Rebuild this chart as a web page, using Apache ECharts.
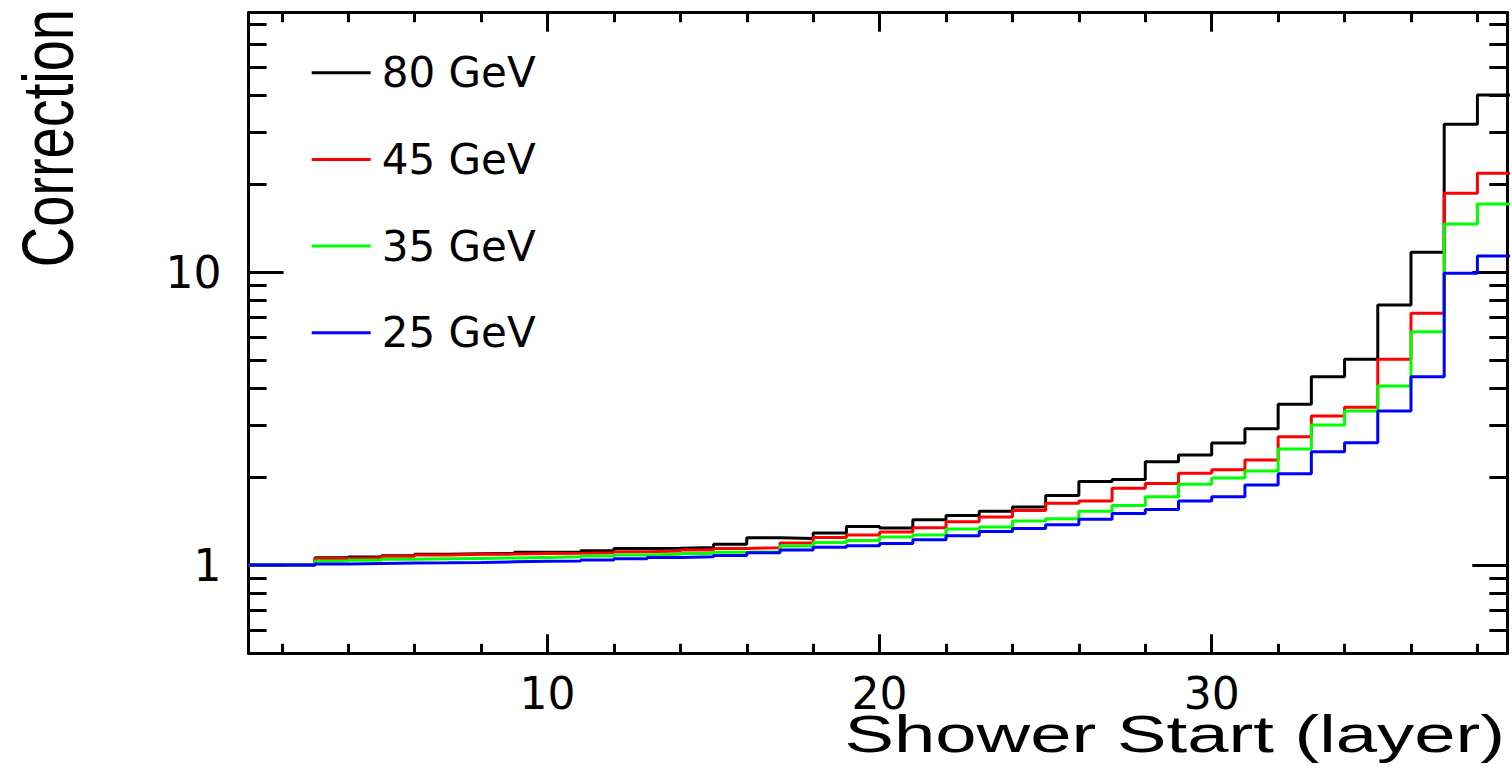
<!DOCTYPE html>
<html>
<head>
<meta charset="utf-8">
<title>Correction vs Shower Start</title>
<script src="https://cdn.jsdelivr.net/npm/echarts@6/dist/echarts.min.js"></script>
<style>
  html, body { margin: 0; padding: 0; background: #ffffff; }
  #chart { width: 1512px; height: 780px; }
</style>
</head>
<body>
<div id="chart"></div>
<script>
// Bin edges of the shower-start histogram (one bin per layer; 39 closes layer 38)
const layerEdges = [1, 2, 3, 4, 5, 6, 7, 8, 9, 10, 11, 12, 13, 14, 15, 16, 17, 18, 19, 20,
                    21, 22, 23, 24, 25, 26, 27, 28, 29, 30, 31, 32, 33, 34, 35, 36, 37, 38, 39];

const energies = ['80 GeV', '45 GeV', '35 GeV', '25 GeV'];
const lineColors = ['#000000', '#ff0000', '#00ff00', '#0000ff'];

// Correction factor per shower-start layer (layers 1..38)
const corr80 = [1.000, 1.000, 1.059, 1.065, 1.076, 1.088, 1.093, 1.096, 1.105, 1.107,
                1.119, 1.140, 1.142, 1.147, 1.177, 1.239, 1.233, 1.286, 1.355, 1.337,
                1.428, 1.476, 1.525, 1.577, 1.727, 1.928, 1.958, 2.252, 2.374, 2.609,
                2.919, 3.539, 4.392, 5.036, 7.716, 11.68, 31.92, 40.19];
const corr45 = [1.000, 1.000, 1.054, 1.059, 1.071, 1.082, 1.088, 1.090, 1.096, 1.098,
                1.101, 1.110, 1.116, 1.125, 1.140, 1.146, 1.189, 1.241, 1.266, 1.296,
                1.340, 1.405, 1.458, 1.535, 1.624, 1.654, 1.827, 1.900, 2.056, 2.116,
                2.282, 2.741, 3.225, 3.453, 5.036, 7.229, 18.56, 21.72];
const corr35 = [1.000, 1.000, 1.032, 1.038, 1.046, 1.051, 1.054, 1.057, 1.062, 1.067,
                1.073, 1.082, 1.088, 1.096, 1.105, 1.110, 1.161, 1.193, 1.214, 1.246,
                1.266, 1.329, 1.350, 1.415, 1.438, 1.525, 1.596, 1.710, 1.887, 1.981,
                2.093, 2.488, 3.005, 3.354, 4.082, 6.255, 14.58, 17.06];
const corr25 = [1.000, 1.000, 1.008, 1.013, 1.016, 1.018, 1.021, 1.026, 1.030, 1.032,
                1.040, 1.051, 1.062, 1.067, 1.078, 1.101, 1.125, 1.150, 1.163, 1.184,
                1.220, 1.258, 1.303, 1.334, 1.373, 1.433, 1.501, 1.549, 1.654, 1.710,
                1.875, 2.049, 2.436, 2.615, 3.354, 4.392, 9.899, 11.34];

// Tick positions (ROOT-style frame: long major ticks, short minor ticks on all four sides)
const xMajorTicks = [10, 20, 30];
const xMinorTicks = [2, 4, 6, 8, 12, 14, 16, 18, 22, 24, 26, 28, 32, 34, 36, 38];
const yMajorTicks = [1, 10];
const yMinorTicks = [0.6, 0.7, 0.8, 0.9, 2, 3, 4, 5, 6, 7, 8, 9, 20, 30, 40, 50, 60, 70];

const X_MIN = 1, X_MAX = 38.9;
const Y_MIN = 0.5, Y_MAX = 76.7;

const seriesValues = [corr80, corr45, corr35, corr25];

function xAxisDef(position, ticks, tickLen, showLine, labels) {
  return {
    type: 'value', position: position, min: X_MIN, max: X_MAX,
    axisLine: { show: showLine, onZero: false, lineStyle: { color: '#000', width: 3 } },
    axisTick: { show: true, inside: true, length: tickLen, customValues: ticks,
                lineStyle: { color: '#000', width: 3 } },
    axisLabel: labels
      ? { show: true, customValues: labels, margin: 18, color: '#000',
          fontSize: 44, fontFamily: 'DejaVu Sans' }
      : { show: false },
    splitLine: { show: false }
  };
}

function yAxisDef(position, ticks, tickLen, showLine, labels) {
  return {
    type: 'log', logBase: 10, position: position, min: Y_MIN, max: Y_MAX,
    axisLine: { show: showLine, onZero: false, lineStyle: { color: '#000', width: 3 } },
    axisTick: { show: true, inside: true, length: tickLen, customValues: ticks,
                lineStyle: { color: '#000', width: 3 } },
    axisLabel: labels
      ? { show: true, customValues: labels, margin: 27, color: '#000',
          fontSize: 44, fontFamily: 'DejaVu Sans', padding: [17, 0, 0, 0] }
      : { show: false },
    splitLine: { show: false }
  };
}

const chart = echarts.init(document.getElementById('chart'), null, { renderer: 'svg' });

chart.setOption({
  animation: false,
  backgroundColor: '#ffffff',
  grid: { left: 248.6, right: 4.7, top: 12.7, bottom: 126.7, containLabel: false,
          outerBoundsMode: 'none' },
  xAxis: [
    xAxisDef('bottom', xMajorTicks, 19, true, xMajorTicks),
    xAxisDef('top', xMajorTicks, 19, true, null),
    xAxisDef('bottom', xMinorTicks, 9.5, false, null),
    xAxisDef('top', xMinorTicks, 9.5, false, null)
  ],
  yAxis: [
    yAxisDef('left', yMajorTicks, 35, true, yMajorTicks),
    yAxisDef('right', yMajorTicks, 35, true, null),
    yAxisDef('left', yMinorTicks, 18, false, null),
    yAxisDef('right', yMinorTicks, 18, false, null)
  ],
  legend: {
    data: energies,
    orient: 'vertical',
    left: 311.7, top: 46.7,
    padding: 0,
    itemWidth: 59, itemHeight: 3, itemGap: 34.7,
    icon: 'rect',
    selectedMode: false,
    textStyle: { fontSize: 42, fontFamily: 'DejaVu Sans', color: '#000',
                 lineHeight: 42, padding: [10, 0, 0, 6] }
  },
  graphic: [
    { type: 'text', x: 1505, y: 734, scaleX: 1.457,
      style: { text: 'Shower Start (layer)', fontSize: 51, fontFamily: 'Liberation Sans',
               fill: '#000', align: 'right', verticalAlign: 'middle' } },
    { type: 'text', x: 48, y: 9, rotation: Math.PI / 2, scaleY: 1.3,
      style: { text: 'Correction', fontSize: 56, fontFamily: 'Liberation Sans',
               fill: '#000', align: 'right', verticalAlign: 'middle' } }
  ],
  series: energies.map(function (name, k) {
    const vals = seriesValues[k];
    return {
      name: name,
      type: 'line',
      step: 'end',
      symbol: 'none',
      clip: true,
      xAxisIndex: 0,
      yAxisIndex: 0,
      color: lineColors[k],
      itemStyle: { color: lineColors[k] },
      lineStyle: { color: lineColors[k], width: 3 },
      data: layerEdges.map(function (x, i) {
        return [x, vals[Math.min(i, vals.length - 1)]];
      })
    };
  })
});
</script>
</body>
</html>
